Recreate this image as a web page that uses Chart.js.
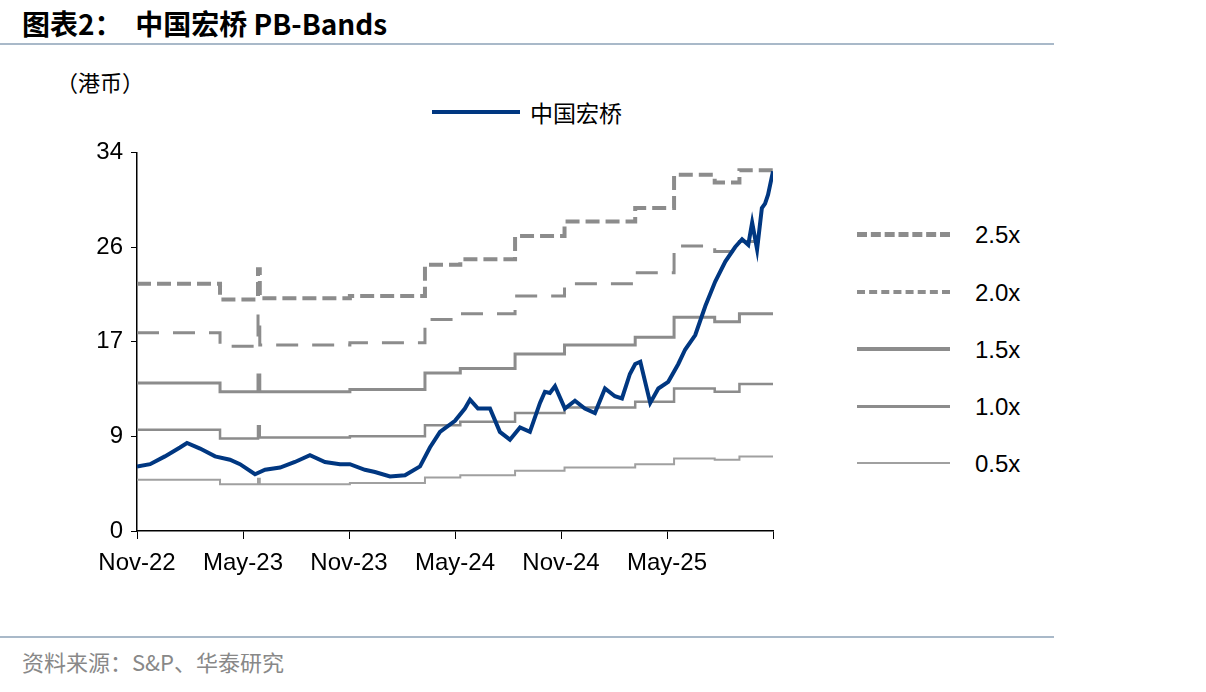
<!DOCTYPE html>
<html><head><meta charset="utf-8">
<script src="https://cdn.jsdelivr.net/npm/chart.js@4"></script>
<style>
body{margin:0;width:1206px;height:692px;background:#fff;position:relative;font-family:"Liberation Sans",Arial,sans-serif;overflow:hidden}
.t{position:absolute;white-space:nowrap}
#wrap{position:absolute;left:60px;top:130px;width:740px;height:460px}
.lg{position:absolute;left:857px;width:93px;height:0}
.lt{position:absolute;left:975px;font-size:24px;color:#000}
</style></head><body>
<div class="t" style="left:22px;top:3px;font-size:28px;font-weight:bold;font-family:'Noto Sans CJK SC','Liberation Sans'">图表2：&nbsp;&nbsp;中国宏桥 PB-Bands</div>
<div style="position:absolute;left:0;top:43px;width:1054px;height:2px;background:#a9b9c9"></div>
<div class="t" style="left:56px;top:65px;font-size:22px;font-family:'Noto Sans CJK SC'">（港币）</div>
<div style="position:absolute;left:432px;top:110px;width:88px;height:4px;background:#003781"></div>
<div class="t" style="left:530px;top:95px;font-size:23px;font-family:'Noto Sans CJK SC'">中国宏桥</div>
<div class="lg" style="top:232px;border-top:5px dashed #8c8c8c"></div><div class="lt" style="top:221px">2.5x</div>
<div class="lg" style="top:290px;border-top:4px dashed #8c8c8c"></div><div class="lt" style="top:279px">2.0x</div>
<div class="lg" style="top:347px;border-top:4px solid #8c8c8c"></div><div class="lt" style="top:336px">1.5x</div>
<div class="lg" style="top:405px;border-top:3px solid #8c8c8c"></div><div class="lt" style="top:393px">1.0x</div>
<div class="lg" style="top:462px;border-top:2px solid #a0a0a0"></div><div class="lt" style="top:450px">0.5x</div>
<div style="position:absolute;left:0;top:636px;width:1054px;height:2px;background:#a9b9c9"></div>
<div class="t" style="left:22px;top:645px;font-size:22px;color:#888;font-family:'Noto Sans CJK SC'">资料来源：S&amp;P、华泰研究</div>
<div id="wrap"><canvas id="c"></canvas></div>
<script>
const tickLabels=["Nov-22","May-23","Nov-23","May-24","Nov-24","May-25",""];
const bandX=[0,4.7,6.85,6.95,12.05,16.3,18.3,21.4,24.2,28.2,30.4,32.7,34.1,36];
const band25=[22.2,20.8,23.5,20.9,21.1,23.9,24.4,26.5,27.8,29.0,32.0,31.3,32.4,32.4];
const band20=[17.8,16.6,19.5,16.7,16.9,19.0,19.5,21.1,22.2,23.2,25.6,25.1,26.0,26.0];
const band15=[13.3,12.5,14.0,12.5,12.7,14.2,14.6,15.9,16.7,17.4,19.2,18.8,19.5,19.5];
const band10=[9.1,8.3,9.4,8.4,8.5,9.5,9.8,10.6,11.1,11.6,12.8,12.5,13.2,13.2];
const band05=[4.6,4.2,4.7,4.2,4.3,4.8,5.0,5.4,5.7,6.0,6.5,6.4,6.7,6.7];
const priceX=[0,0.74,1.58,2.43,2.83,3.57,4.42,5.26,5.83,6.68,7.25,8.1,8.94,9.79,10.64,11.49,12.05,12.9,13.47,14.32,15.17,16.02,16.58,17.15,18.0,18.56,18.85,19.3,19.98,20.54,21.11,21.68,22.24,22.81,23.09,23.37,23.66,24.22,24.79,25.35,25.92,26.49,27.05,27.45,27.9,28.2,28.49,29.05,29.51,30.07,30.64,31.03,31.6,32.17,32.73,33.3,33.86,34.25,34.6,34.82,35.1,35.37,35.55,35.72,36];
const price=[5.8,6.0,6.7,7.5,7.9,7.4,6.7,6.4,6.0,5.1,5.5,5.7,6.2,6.8,6.2,6.0,6.0,5.5,5.3,4.9,5.0,5.8,7.5,8.9,9.9,11.0,11.8,11.0,11.0,8.9,8.2,9.3,8.9,11.5,12.5,12.4,13.0,11.0,11.7,11.0,10.6,12.8,12.1,11.9,14.1,15.0,15.2,11.5,12.8,13.4,15.0,16.3,17.6,20.2,22.4,24.2,25.5,26.2,25.7,27.7,25.3,29.0,29.4,30.2,32.3];
const pts=(xs,ys)=>xs.map((x,i)=>({x:x,y:ys[i]}));
const g='#8c8c8c';
new Chart(document.getElementById('c'),{type:'line',data:{datasets:[
{data:pts(priceX,price),borderColor:'#003781',borderWidth:4,pointRadius:0,tension:0},
{data:pts(bandX,band25),borderColor:g,borderWidth:4,borderDash:[14,6],stepped:'before',pointRadius:0},
{data:pts(bandX,band20),borderColor:g,borderWidth:3,borderDash:[22,14],stepped:'before',pointRadius:0},
{data:pts(bandX,band15),borderColor:g,borderWidth:3,stepped:'before',pointRadius:0},
{data:pts(bandX,band10),borderColor:g,borderWidth:2.5,stepped:'before',pointRadius:0},
{data:pts(bandX,band05),borderColor:'#a0a0a0',borderWidth:2,stepped:'before',pointRadius:0}
]},options:{animation:false,responsive:true,maintainAspectRatio:false,
layout:{padding:{top:13,right:27,left:0,bottom:0}},
plugins:{legend:{display:false},tooltip:{enabled:false}},
scales:{x:{type:'linear',min:0,max:36,afterFit:a=>{a.height=59},
 border:{color:'#000',width:1.5},grid:{drawOnChartArea:false,color:'#000',tickLength:8},
 ticks:{stepSize:6,padding:10,color:'#000',font:{size:24,family:'Liberation Sans'},maxRotation:0,autoSkip:false,callback:v=>tickLabels[v/6]}},
y:{min:0,max:34,afterFit:a=>{a.width=77},
 border:{color:'#000',width:1.5},grid:{drawOnChartArea:false,color:'#000',tickLength:6},
 ticks:{stepSize:8.5,padding:8,color:'#000',font:{size:24,family:'Liberation Sans'},callback:v=>Math.round(v)}}}}});
</script></body></html>
